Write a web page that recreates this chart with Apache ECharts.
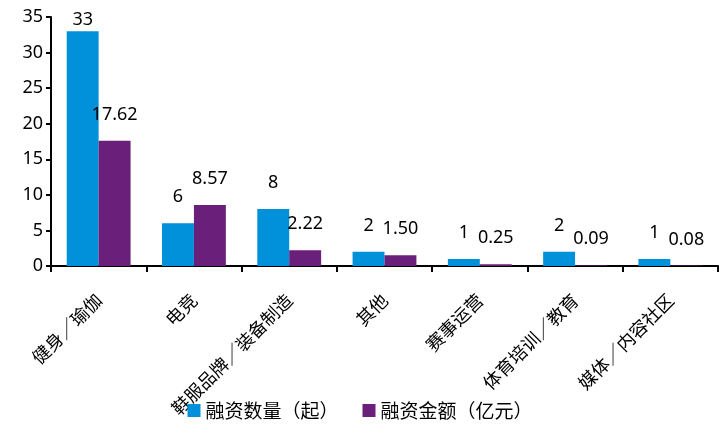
<!DOCTYPE html>
<html>
<head>
<meta charset="utf-8">
<script src="https://cdn.jsdelivr.net/npm/echarts@6/dist/echarts.min.js"></script>
<style>
  html, body {margin: 0; padding: 0; background: #fff;}
  #chart {width: 720px; height: 435px;}
</style>
</head>
<body>
<div id="chart"></div>
<script>
  const categories = ['健身／瑜伽', '电竞', '鞋服品牌／装备制造', '其他', '赛事运营', '体育培训／教育', '媒体／内容社区']
  const dealCount = [33, 6, 8, 2, 1, 2, 1]
  const dealAmount = [17.62, 8.57, 2.22, 1.50, 0.25, 0.09, 0.08]
  const seriesNames = ['融资数量（起）', '融资金额（亿元）']

  const numFont = '"Noto Sans", "DejaVu Sans", sans-serif'
  const cjkFont = '"Noto Sans CJK SC", sans-serif'

  // 顶部的 33 贴着图顶，距离收小
  const withLabel = (arr, fmt) => arr.map(v => ({
    value: v,
    label: {distance: v > 30 ? 2 : 17, formatter: () => fmt(v)},
  }))

  const chart = echarts.init(document.getElementById('chart'))
  chart.setOption({
    animation: false,
    color: ['#0091DA', '#6A1F7A'],
    grid: {left: 51, right: 2, top: 17, bottom: 169},
    legend: {
      data: seriesNames, bottom: 10, left: 'center', icon: 'rect',
      itemWidth: 13, itemHeight: 13, itemGap: 24,
      textStyle: {fontFamily: cjkFont, fontSize: 19, color: '#000'},
    },
    xAxis: {
      type: 'category', data: categories,
      axisLine: {lineStyle: {color: '#000', width: 2}},
      axisTick: {show: true, length: 6, lineStyle: {color: '#000', width: 2}},
      axisLabel: {interval: 0, rotate: 45, margin: 31, fontFamily: cjkFont, fontSize: 18, color: '#000'},
    },
    yAxis: {
      type: 'value', min: 0, max: 35, interval: 5,
      axisLine: {show: true, lineStyle: {color: '#000', width: 2}},
      axisTick: {show: true, length: 5, lineStyle: {color: '#000', width: 2}},
      splitLine: {show: false},
      axisLabel: {margin: 8, fontFamily: numFont, fontSize: 18, color: '#000'},
    },
    series: [
      {
        name: seriesNames[0], type: 'bar', barGap: '0%', barCategoryGap: '33%',
        data: withLabel(dealCount, v => String(v)),
        label: {show: true, position: 'top', fontFamily: numFont, fontSize: 18, color: '#000'},
      },
      {
        name: seriesNames[1], type: 'bar', barGap: '0%', barCategoryGap: '33%',
        data: withLabel(dealAmount, v => v.toFixed(2)),
        label: {show: true, position: 'top', fontFamily: numFont, fontSize: 18, color: '#000'},
      },
    ],
  })
</script>
</body>
</html>
